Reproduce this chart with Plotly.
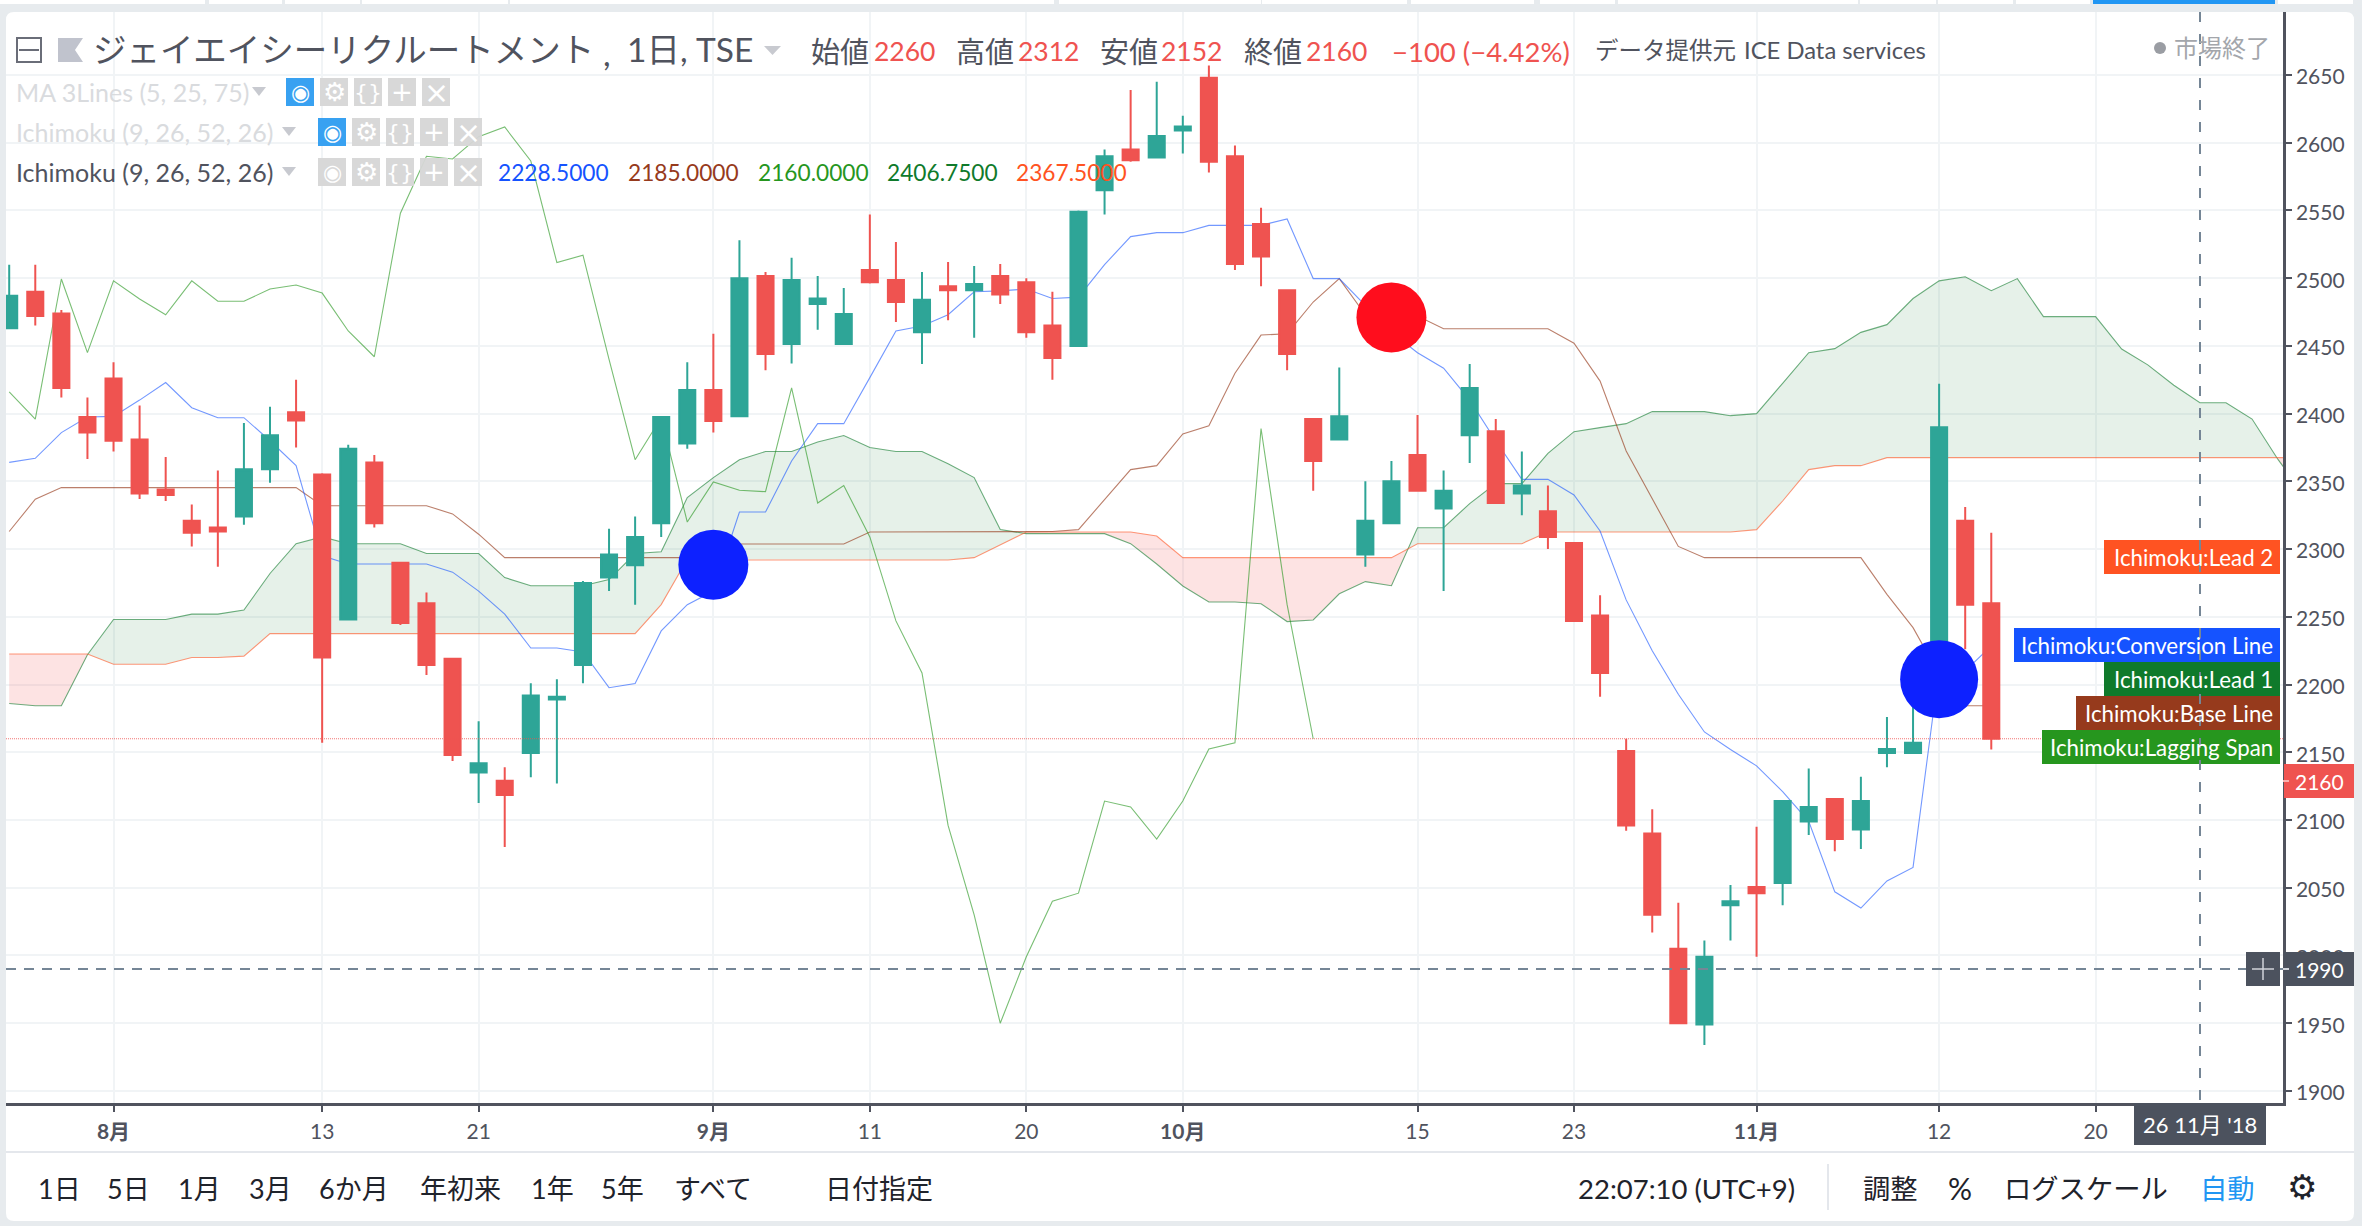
import plotly.graph_objects as go

W, H = 2362, 1226
PL, PR, PT, PB = 6, 2283, 12, 1103
BAR0, BARSTEP = 9.2, 26.08
YMIN, YMAX = 1891.1, 2696.5

opens = [2463,2490,2474,2397.5,2426,2381,2344,2321,2316,2324,2359,2401,2355,2248,2364,2290,2260,2219,2135,2129,
         2149.5,2189,2214.5,2279,2288,2319,2378,2417.5,2398,2501.6,2451.4,2481,2451.4,2506,2498.7,2460,2494,2491,2501.6,2497,
         2465,2450,2565,2595,2589,2609,2648,2590,2540,2491,2396,2381,2296,2319,2369.5,2330,2384,2387,2341,2328,
         2304.5,2251,2151,2090,2005,1949,2037,2050.5,2053.5,2099,2115.6,2093,2149.5,2149.5,2190,2321,2260]
highs = [2510,2510,2476.5,2412,2438,2406,2368,2333,2358,2393,2405,2425,2356,2377,2369.5,2290,2268,2219,2173,2139,
         2201,2204,2276.5,2315,2324,2398,2438,2459,2528,2504.6,2515,2501.6,2492.8,2547,2526.7,2504.6,2512,2509,2510.5,2500,
         2490,2550,2595,2639,2645,2620,2657,2598,2552,2491,2396,2434,2350,2365,2399,2358,2436.7,2396,2372,2347,
         2304.5,2266,2160,2108,2039,2011,2052,2095,2114,2138,2115.6,2132,2176,2185,2422,2331,2312]
lows = [2463,2465,2412,2366.5,2372,2337,2335.5,2302,2287,2318,2349,2375,2157,2248,2316,2244,2207,2143.6,2112.6,2080,
        2131.6,2127,2201,2269,2259,2309,2374,2386,2397.5,2432,2437,2462,2451,2496,2467.7,2436.7,2469,2456,2481,2456,
        2425,2450,2547,2586,2589,2592,2578,2506,2494,2432,2343,2381,2287,2319,2343,2269,2363.6,2334,2325,2300,
        2247,2191,2092,2017,1950,1934,2011,1999,2037,2089,2077,2078.6,2139,2149.5,2185,2226,2152]
closes = [2487,2472,2419,2386,2380,2341,2340,2312,2313,2359,2384,2395,2220,2374,2319,2245.5,2214.5,2148,2142,2118.5,
          2192,2191,2275,2296,2309,2397.5,2417.5,2394.6,2500,2444,2498.7,2485,2473.6,2497,2482.4,2484,2491,2495.7,2488,2460,
          2441,2549,2590,2587,2605,2612,2586,2510.5,2516,2444,2365,2398,2321,2350,2343,2343,2419,2334,2347,2309,
          2247,2208.6,2096,2030,1950,1999,2040,2046,2114,2109.6,2086,2114,2152.5,2157,2390,2259,2160]

conversion = [2364,2367,2386,2397.5,2398,2410,2423,2404.4,2397,2397,2380,2361.6,2295,2289,2289,2289,2289,2283,2269,2252,
              2227,2227,2224,2197.7,2200.7,2239.6,2259,2269,2327.4,2327.4,2365,2392.6,2392.6,2426.6,2461,2464.7,2473,2490,2490.6,2492,
              2485,2486,2510,2530.7,2533.6,2533.6,2539,2539,2539,2543.7,2499.7,2499.7,2480,2460,2445,2433.5,2410,2380,2351.5,2351.5,
              2340,2313.4,2262.5,2225,2192.8,2165,2152,2140,2121,2099,2047,2035,2055,2065,2212,2210,2228.5]
base = [2313,2336.8,2345.4,2345.4,2345.4,2345.4,2345.4,2345.4,2345.4,2345.4,2345.4,2345.4,2332,2332,2332,2332,2332,2326,2311,2293.7,
        2293.7,2293.7,2293.7,2293.7,2293.7,2293.7,2293.7,2293.7,2303.8,2303.8,2303.8,2303.8,2303.8,2312.6,2312.6,2312.6,2312.6,2312.6,2312.6,2312.6,
        2313,2314.4,2336.8,2358.7,2361.6,2385,2391,2429.8,2458,2459,2482.4,2499.7,2473,2471,2472,2462.7,2462.7,2462.7,2462.7,2462.7,
        2452,2424,2372.4,2336.8,2302,2293.7,2293.7,2293.7,2293.7,2293.7,2293.7,2293.7,2266.6,2242,2207.6,2184.4,2184.4]
lagging = [2416,2396,2499.4,2445,2498,2484.6,2473,2498,2483,2483,2492,2495,2489,2461,2442,2548,2590,2588,2604.5,2611.6,
           2586.5,2511.5,2517,2440,2366,2397,2320,2349.6,2343.4,2342.4,2419,2334,2347,2309,2247,2208.6,2096,2030,1950,1999,
           2040,2046,2114,2109.6,2086,2114,2152.5,2157,2389,2259,2160]
lead1 = [2186,2184.4,2184.4,2222,2248,2248,2248,2252,2252,2255,2282,2304,2309,2304,2304,2304,2296.7,2296.7,2296.7,2279,
         2273,2273,2273,2277.5,2296.7,2298,2338,2352.8,2366,2372,2372,2379,2383.8,2375,2372,2372,2363,2352.8,2314.4,2311.4,
         2311.4,2311.4,2311.4,2304,2289,2272.8,2261,2261,2259.7,2246.5,2247.7,2267,2276,2273,2315.8,2315.8,2333.6,2348.3,2348.3,2370.7,
         2386.7,2389.7,2392.6,2401.5,2401.5,2401.5,2398.5,2400,2422.4,2445,2448,2460,2465.7,2485,2498,2501,2490.8,2499.7,2471.6,2471.6,
         2471.6,2447.7,2436,2421,2408,2408,2396,2366,2340]
lead2 = [2222.6,2222.6,2222.6,2222.6,2215,2215,2215,2220,2220,2221,2237.6,2237.6,2237.6,2237.6,2237.6,2237.6,2237.6,2237.6,2237.6,2237.6,
         2237.6,2237.6,2237.6,2237.6,2237.6,2259,2292.5,2292,2292,2292,2292,2292,2292,2292,2292,2292,2292,2293.7,2303,2312.6,
         2312.6,2312.6,2312.6,2312.6,2309.7,2293.7,2293.7,2293.7,2293.7,2293.7,2293.7,2293.7,2293.7,2293.7,2304,2304,2304,2304,2304,2312.6,
         2312.6,2312.6,2312.6,2312.6,2312.6,2312.6,2312.6,2314.4,2335.5,2358.7,2361.6,2361.6,2367.5,2367.5,2367.5,2367.5,2367.5,2367.5,2367.5,2367.5,
         2367.5,2367.5,2367.5,2367.5,2367.5,2367.5,2367.5,2367.5,2367.5]

signal_bars = [27, 53, 74]
signal_values = [2288.5, 2471, 2204]
signal_colors = ["#0d21ff", "#ff0d1d", "#0d21ff"]
signal_sizes = [70, 70, 78]

tick_bars = [4, 12, 18, 27, 33, 39, 45, 54, 60, 67, 74, 80]
tick_labels = ["<b>8月</b>", "13", "21", "<b>9月</b>", "11", "20", "<b>10月</b>", "15", "23", "<b>11月</b>", "12", "20"]
price_ticks = list(range(1900, 2651, 50))

TEAL, RED = "#2ea597", "#ef5350"
FONT = "Lato, 'Noto Sans CJK JP', sans-serif"
DARK = "#50535e"
BLUE_L, BROWN_L, LAG_L, L1_L, L2_L = "#1553ff", "#963a1c", "#26961e", "#0f7a2b", "#ff5322"


def px(x):
    return x / W


def py(y):
    return 1 - y / H


def bar_range():
    return [(PL - BAR0) / BARSTEP, (PR - BAR0) / BARSTEP]


fig = go.Figure()

# Kumo: split at the crossings of the two leading spans
def cloud_segments(a, b):
    segs, xs, ua, ub, sign = [], [], [], [], None
    for i in range(len(a)):
        s = 1 if a[i] >= b[i] else -1
        if sign is not None and s != sign:
            d0, d1 = a[i - 1] - b[i - 1], a[i] - b[i]
            t = d0 / (d0 - d1) if d0 != d1 else 0
            cx, cy = i - 1 + t, a[i - 1] + t * (a[i] - a[i - 1])
            xs.append(cx); ua.append(cy); ub.append(cy)
            segs.append((sign, xs, ua, ub))
            xs, ua, ub = [cx], [cy], [cy]
        sign = s
        xs.append(i); ua.append(a[i]); ub.append(b[i])
    segs.append((sign, xs, ua, ub))
    return segs


for sign, xs, ua, ub in cloud_segments(lead1, lead2):
    fig.add_trace(go.Scatter(x=xs + xs[::-1], y=ua + ub[::-1], mode="lines", fill="toself",
                             line=dict(width=0),
                             fillcolor="rgba(15,122,43,0.105)" if sign > 0 else "rgba(240,60,60,0.14)",
                             hoverinfo="skip", showlegend=False))

series = [(lead1, "rgba(15,122,43,0.6)"), (lead2, "rgba(255,83,34,0.6)"),
          (base, "rgba(150,58,28,0.65)"), (conversion, "rgba(21,83,255,0.6)"), (lagging, "rgba(38,150,30,0.62)")]
for vals, col in series:
    fig.add_trace(go.Scatter(x=list(range(len(vals))), y=vals, mode="lines", line=dict(color=col, width=1.1),
                             hoverinfo="skip", showlegend=False))

fig.add_trace(go.Candlestick(x=list(range(len(opens))), open=opens, high=highs, low=lows, close=closes,
                             xaxis="x2", yaxis="y2", whiskerwidth=0,
                             increasing=dict(line=dict(color=TEAL, width=2), fillcolor=TEAL),
                             decreasing=dict(line=dict(color=RED, width=2), fillcolor=RED),
                             showlegend=False, hoverinfo="skip"))
fig.add_trace(go.Scatter(x=signal_bars, y=signal_values, mode="markers", xaxis="x3", yaxis="y3",
                         marker=dict(color=signal_colors, size=signal_sizes, opacity=1, line=dict(width=0)),
                         hoverinfo="skip", showlegend=False))

shapes, anns = [], []


def rect(x0, y0, x1, y1, color, layer="above", opacity=None):
    s = dict(type="rect", xref="paper", yref="paper", x0=px(x0), x1=px(x1), y0=py(y0), y1=py(y1),
             fillcolor=color, line=dict(width=0), layer=layer)
    if opacity is not None:
        s["opacity"] = opacity
    shapes.append(s)


def seg(x0, y0, x1, y1, color, width=2, dash=None):
    shapes.append(dict(type="line", xref="paper", yref="paper", x0=px(x0), x1=px(x1), y0=py(y0), y1=py(y1),
                       line=dict(color=color, width=width, dash=dash or "solid"), layer="above"))


def poly(points, color, layer="above"):
    d = "M " + " L ".join(f"{px(a):.5f},{py(b):.5f}" for a, b in points) + " Z"
    shapes.append(dict(type="path", xref="paper", yref="paper", path=d, fillcolor=color,
                       line=dict(width=0), layer=layer))


def text(t, x, y, size, color, anchor="left", family=FONT):
    anns.append(dict(text=t, xref="paper", yref="paper", x=px(x), y=py(y), xanchor=anchor, yanchor="middle",
                     showarrow=False, font=dict(size=size, color=color, family=family), borderpad=0, borderwidth=0))


# panel
r = 8
panel = (f"M {px(PL + r)},{py(12)} L {px(2354 - r)},{py(12)} Q {px(2354)},{py(12)} {px(2354)},{py(12 + r)} "
         f"L {px(2354)},{py(1221 - r)} Q {px(2354)},{py(1221)} {px(2354 - r)},{py(1221)} "
         f"L {px(PL + r)},{py(1221)} Q {px(PL)},{py(1221)} {px(PL)},{py(1221 - r)} "
         f"L {px(PL)},{py(12 + r)} Q {px(PL)},{py(12)} {px(PL + r)},{py(12)} Z")
shapes.append(dict(type="path", xref="paper", yref="paper", path=panel, fillcolor="#ffffff", line=dict(width=0), layer="below"))

# toolbar remnants at the very top
for a, b in [(0, 205), (209, 282), (285, 360), (362, 508), (510, 1054), (1059, 1261), (1262, 1407), (1411, 1534),
             (1540, 1615), (1618, 1858), (1860, 1936), (1938, 2013), (2016, 2090), (2278, 2353)]:
    rect(a, 0, b, 4, "#ffffff", "below")
rect(2093, 0, 2275, 4, "#2196f3", "below")

# price and crosshair lines
shapes.append(dict(type="line", xref="paper", yref="y", x0=px(PL), x1=px(PR), y0=2160, y1=2160,
                   line=dict(color="rgba(239,83,80,0.8)", width=1.2, dash="1px,1px"), layer="above"))

# series labels
for label, x0, y0, col, in [("Ichimoku:Lead 2", 2104, 540, L2_L), ("Ichimoku:Conversion Line", 2014, 628, BLUE_L),
                            ("Ichimoku:Lead 1", 2104, 662, L1_L), ("Ichimoku:Base Line", 2076, 696, BROWN_L),
                            ("Ichimoku:Lagging Span", 2042, 730, LAG_L)]:
    rect(x0, y0, 2280, y0 + 34, col)
    text(label, 2273, y0 + 17, 22.3, "#ffffff", "right")

# price tags
rect(2284, 764, 2354, 798, RED)
seg(2283, 781, 2289, 781, "#f8b0ae", 2)
text("2160", 2319, 781, 21, "#ffffff", "center")
seg(PL, 969, PR, 969, "#758696", 2, "10px,8px")
seg(2200, PT, 2200, PB + 6, "#758696", 2, "10px,12px")
rect(2246, 952, 2280, 986, "#4c525e")
seg(2252, 969, 2274, 969, "#d0d3da", 1.5)
seg(2263, 958, 2263, 980, "#d0d3da", 1.5)
rect(2284, 952, 2354, 986, "#4c525e")
seg(2283, 969, 2289, 969, "#d0d3da", 2)
text("1990", 2319, 969, 21, "#ffffff", "center")
rect(2134, 1103, 2266, 1145, "#4c525e")
text("26 11月 '18", 2200, 1124, 22, "#ffffff", "center")

# bottom toolbar
seg(PL, 1152, 2354, 1152, "#e4e7ec", 2)
seg(1828, 1164, 1828, 1210, "#e4e7ec", 2)
for t, x in [("1日", 59), ("5日", 128), ("1月", 199), ("3月", 270), ("6か月", 354), ("年初来", 460), ("1年", 552),
             ("5年", 622), ("すべて", 713), ("日付指定", 879)]:
    text(t, x, 1188, 27, "#1f232b", "center")
text("22:07:10 (UTC+9)", 1686, 1188, 27.5, "#1f232b", "center")
text("調整", 1890, 1188, 27.3, "#1f232b", "center")
text("%", 1960, 1188, 30, "#1f232b", "center")
text("ログスケール", 2086, 1188, 27.3, "#1f232b", "center")
text("自動", 2227, 1188, 27.3, "#2196f3", "center")
text("⚙", 2302, 1187, 34, "#1f232b", "center", "DejaVu Sans")

# header
shapes.append(dict(type="rect", xref="paper", yref="paper", x0=px(17), x1=px(41), y0=py(38), y1=py(62),
                   fillcolor="rgba(0,0,0,0)", line=dict(color="#6a6d78", width=2), layer="above"))
seg(19, 50, 39, 50, "#6a6d78", 2)
poly([(58, 38), (83, 38), (75, 50), (83, 62), (58, 62)], "#c0c3cd")
text("ジェイエイシーリクルートメント", 93, 49, 33.5, "#50535e")
text(",", 603, 53, 33.5, "#50535e")
text("1日, TSE", 627, 49, 33.5, "#50535e")
poly([(764, 46), (781, 46), (772.5, 55)], "#c8cad0")

for t, x in [("始値", 811), ("高値", 956), ("安値", 1100), ("終値", 1244)]:
    text(t, x, 51, 29, "#50535e")
for t, x in [("2260", 874), ("2312", 1018), ("2152", 1161), ("2160", 1306)]:
    text(t, x, 51, 26.5, RED)
text("−100 (−4.42%)", 1392, 51, 27.5, RED)
text("データ提供元", 1595, 50, 23.5, "#50535e")
text("ICE Data services", 1744, 50, 23.8, "#50535e")
shapes.append(dict(type="circle", xref="paper", yref="paper", x0=px(2154), x1=px(2166), y0=py(42), y1=py(54),
                   fillcolor="#9a9da3", line=dict(width=0), layer="above"))
text("市場終了", 2174, 47, 24, "#a3a6ab")

# indicator rows
GLYPHS = [("◉", 22), ("⚙", 26), ("{}", 22), ("+", 26), ("×", 30)]


def row(label, tx, y, color, arrow_x, box_xs, first_blue):
    text(label, tx, y, 25, color)
    poly([(arrow_x, y - 5), (arrow_x + 14, y - 5), (arrow_x + 7, y + 4)], "#c8cad0")
    for i, bx in enumerate(box_xs):
        rect(bx, y - 14, bx + 28, y + 14, "#2d9cf0" if (i == 0 and first_blue) else "#d6d6d6", opacity=0.95)
        text(GLYPHS[i][0], bx + 14, y, GLYPHS[i][1], "#ffffff", "center", "DejaVu Sans")


row("MA 3Lines (5, 25, 75)", 16, 92, "#d9dbde", 252, [286, 320, 354, 388, 422], True)
row("Ichimoku (9, 26, 52, 26)", 16, 132, "#d9dbde", 282, [318, 352, 386, 420, 454], True)
row("Ichimoku (9, 26, 52, 26)", 16, 172, "#50535e", 282, [318, 352, 386, 420, 454], False)
for t, x, c in [("2228.5000", 498, BLUE_L), ("2185.0000", 628, BROWN_L), ("2160.0000", 758, LAG_L),
                ("2406.7500", 887, L1_L), ("2367.5000", 1016, L2_L)]:
    text(t, x, 172, 22.7, c)

GRID = "#f1f4f6"
hidden = dict(visible=False, range=bar_range(), domain=[px(PL), px(PR)], fixedrange=True)
hiddeny = dict(visible=False, range=[YMIN, YMAX], domain=[py(PB), py(PT)], fixedrange=True)
fig.update_layout(
    width=W, height=H, margin=dict(l=0, r=0, t=0, b=0, pad=0, autoexpand=False),
    paper_bgcolor="#e7ebee", plot_bgcolor="rgba(0,0,0,0)", showlegend=False, boxgap=0.12,
    xaxis=dict(range=bar_range(), domain=[px(PL), px(PR)], tickmode="array", tickvals=tick_bars, ticktext=tick_labels,
               showgrid=True, gridcolor=GRID, gridwidth=2, zeroline=False, showline=True, linecolor=DARK, linewidth=2.5,
               anchor="y", ticks="outside", ticklen=6, tickcolor=DARK, tickwidth=1.5, ticklabelstandoff=2,
               tickfont=dict(size=21, color="#50535e", family=FONT), rangeslider=dict(visible=False), fixedrange=True),
    yaxis=dict(range=[YMIN, YMAX], domain=[py(PB), py(PT)], side="right", anchor="x", tickmode="array", tickvals=price_ticks,
               showgrid=True, gridcolor=GRID, gridwidth=2, zeroline=False, showline=True, linecolor=DARK, linewidth=2.5,
               ticks="outside", ticklen=6, tickcolor=DARK, tickwidth=1.5, ticklabelshift=2,
               tickfont=dict(size=21, color="#50535e", family=FONT), fixedrange=True),
    xaxis2=dict(overlaying="x", anchor="y2", rangeslider=dict(visible=False), **hidden),
    yaxis2=dict(overlaying="y", anchor="x2", **hiddeny),
    xaxis3=dict(overlaying="x", anchor="y3", **hidden),
    yaxis3=dict(overlaying="y", anchor="x3", **hiddeny),
    shapes=shapes, annotations=anns,
)

fig.write_html("out.html", config={"displayModeBar": False},
               post_script="document.body.style.margin='0';document.body.style.overflow='hidden';document.body.style.background='#e7ebee';")
